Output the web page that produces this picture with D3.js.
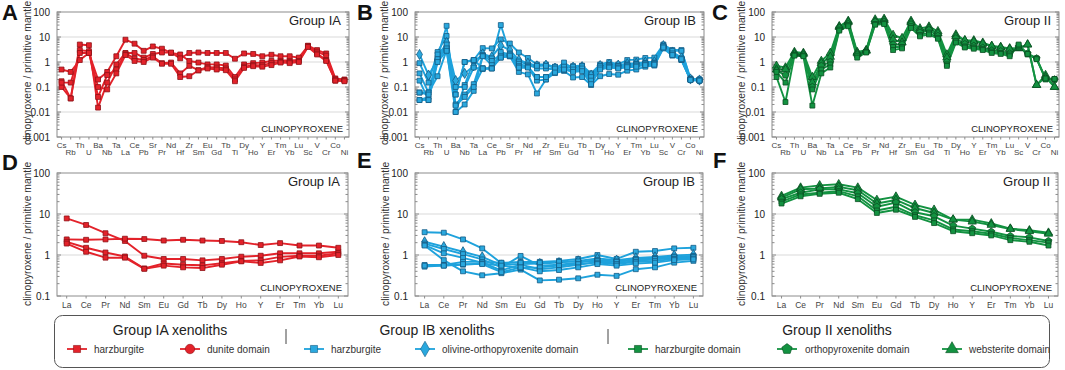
<!DOCTYPE html>
<html>
<head>
<meta charset="utf-8">
<script src="https://cdn.jsdelivr.net/npm/d3@7/dist/d3.min.js"></script>
<style>
  body { margin: 0; background: #fff; }
  svg { display: block; font-family: "Liberation Sans", Arial, sans-serif; }
</style>
</head>
<body>
<svg id="chart" width="1065" height="370"></svg>
<script>
// element orders
const spiderElements = ["Cs","Rb","Th","U","Ba","Nb","Ta","La","Ce","Pb","Sr","Pr","Nd","Hf","Zr","Sm","Eu","Gd","Tb","Ti","Dy","Ho","Y","Er","Tm","Yb","Lu","Sc","V","Cr","Co","Ni"]
const reeElements = ["La","Ce","Pr","Nd","Sm","Eu","Gd","Tb","Dy","Ho","Y","Er","Tm","Yb","Lu"]

// Group IA, normalised to primitive mantle
const iaSpider = [
  [0.5,0.4,1.2,2.3,0.2,0.4,1.7,7.8,5.4,2.8,4.2,3.4,2.3,2.0,1.1,0.95,0.8,0.8,0.72,0.25,0.8,0.9,0.95,1.1,1.15,1.15,1.2,4.5,3.0,2.2,0.22,0.2],
  [0.17,0.035,5.0,4.7,0.015,0.15,0.8,2.3,2.3,1.5,2.1,2.4,2.4,1.4,2.3,2.4,2.3,2.3,2.3,1.35,2.2,2.1,1.7,1.95,1.7,1.7,1.5,4.3,2.6,1.8,0.2,0.19],
  [0.1,0.035,3.0,2.7,0.04,0.3,0.5,2.2,1.4,1.2,1.7,0.9,0.95,0.35,0.7,0.47,0.62,0.6,0.55,0.2,0.65,0.75,0.75,0.9,1.0,1.0,1.1,4.2,2.2,1.2,0.18,0.18],
  [0.15,0.15,2.3,2.3,0.1,0.08,0.35,1.9,1.1,1.0,1.5,0.85,0.85,0.25,0.27,0.46,0.55,0.5,0.47,0.17,0.58,0.68,0.65,0.75,0.95,0.9,1.0,4.0,2.0,1.1,0.18,0.17]
]
const iaRee = [
  [7.8,5.4,3.4,2.2,0.96,0.8,0.8,0.74,0.8,0.91,0.96,1.1,1.1,1.1,1.2],
  [2.4,2.35,2.4,2.5,2.45,2.25,2.35,2.25,2.2,2.05,1.75,1.95,1.7,1.7,1.5],
  [2.1,1.5,1.15,0.92,0.47,0.62,0.58,0.56,0.63,0.72,0.74,0.9,0.96,0.96,1.1],
  [1.9,1.2,0.86,0.86,0.46,0.55,0.5,0.48,0.58,0.7,0.64,0.74,0.92,0.88,1.0]
]

// Group IB
const ibSpider = [
  [0.9,0.15,2.5,11,0.05,1.0,1.2,3.6,3.5,8,5.5,2.4,1.45,0.8,0.8,0.63,0.68,0.68,0.72,0.35,0.8,1.0,0.8,1.2,1.25,1.45,1.5,5.0,3.0,3.0,0.22,0.2],
  [2.0,0.3,1.2,6,0.18,0.35,0.7,2.1,1.6,4.5,3.0,1.2,0.9,0.7,0.75,0.57,0.6,0.62,0.65,0.3,0.72,0.82,0.75,0.85,0.9,0.98,1.02,4.5,2.5,1.5,0.21,0.19],
  [0.35,0.06,1.5,28,0.01,0.12,1.1,1.9,1.4,30,2.2,1.05,0.78,0.55,0.55,0.5,0.95,0.55,0.58,0.2,0.65,0.75,0.7,0.8,0.85,0.92,0.95,4.2,2.2,1.3,0.2,0.19],
  [0.18,0.03,1.2,4,0.02,0.05,0.13,1.75,1.1,2.0,1.8,0.85,0.65,0.25,0.25,0.42,0.58,0.45,0.5,0.15,0.58,0.68,0.62,0.72,0.78,0.85,0.88,4.0,2.0,1.2,0.2,0.18],
  [0.06,0.06,0.27,3,0.01,0.02,0.07,1.7,0.75,1.5,1.7,0.4,0.32,0.055,0.2,0.36,0.44,0.24,0.25,0.12,0.27,0.33,0.31,0.45,0.5,0.65,0.72,3.5,1.8,1.2,0.19,0.18],
  [0.03,0.04,2.0,5,0.05,1.0,1.2,0.57,0.57,2.5,2.0,0.68,0.68,0.7,0.7,0.65,0.65,0.65,0.68,0.25,0.7,0.72,0.68,0.75,0.8,0.88,0.9,4.5,2.8,2.8,0.21,0.2],
  [0.06,0.05,1.3,3.5,0.1,0.1,0.6,0.52,0.55,1.7,1.7,0.58,0.62,0.18,0.2,0.55,0.48,0.5,0.55,0.18,0.6,0.65,0.6,0.68,0.72,0.8,0.82,4.2,2.2,1.4,0.2,0.19],
  [0.03,0.03,1.0,2.8,0.018,0.04,0.1,0.55,0.55,1.5,1.8,0.6,0.6,0.25,0.25,0.38,0.5,0.4,0.43,0.13,0.5,0.6,0.55,0.62,0.65,0.75,0.78,3.8,1.9,1.3,0.19,0.18]
]
const ibRee = [
  [3.6,3.5,2.4,1.45,0.63,0.68,0.68,0.72,0.8,1.0,0.8,1.2,1.25,1.45,1.5],
  [2.1,1.6,1.2,0.9,0.57,0.6,0.62,0.65,0.72,0.82,0.75,0.85,0.9,0.98,1.02],
  [1.9,1.4,1.05,0.78,0.5,0.95,0.55,0.58,0.65,0.75,0.7,0.8,0.85,0.92,0.95],
  [1.75,1.1,0.85,0.65,0.42,0.58,0.45,0.5,0.58,0.68,0.62,0.72,0.78,0.85,0.88],
  [1.7,0.75,0.4,0.32,0.36,0.44,0.24,0.25,0.27,0.33,0.31,0.45,0.5,0.65,0.72],
  [0.57,0.57,0.68,0.68,0.65,0.65,0.65,0.68,0.7,0.72,0.68,0.75,0.8,0.88,0.9],
  [0.52,0.55,0.58,0.62,0.55,0.48,0.5,0.55,0.6,0.65,0.6,0.68,0.72,0.8,0.82],
  [0.55,0.55,0.6,0.6,0.38,0.5,0.4,0.43,0.5,0.6,0.55,0.62,0.65,0.75,0.78]
]

// Group II
const iiSpider = [
  [0.7,0.6,2.5,2.3,0.25,1.1,2.3,27,44,2.5,3.0,50,53,12,9,44,22,26,17,2.0,12.5,7.3,7.3,5.9,4.4,4.0,3.5,3.5,5.0,0.12,0.3,0.1],
  [0.5,0.5,2.2,2.1,0.15,0.9,1.6,25,40,2.2,2.8,42,46,8,6,38,18,22,14,1.5,10.6,7.3,6.5,5.4,4.3,3.8,3.3,3.6,5.0,0.12,0.25,0.1],
  [0.45,0.3,2.0,1.9,0.1,0.7,1.0,23,33,2.0,2.6,40,40,5,5,32,15,19,11,1.0,8.8,5.2,4.4,3.7,2.9,2.7,2.2,4.0,2.2,1.4,0.22,0.2],
  [0.4,0.15,1.9,1.8,0.08,0.5,0.8,20,30,1.8,2.5,33,36,4,4,27,12,15,9.3,0.8,7.0,4.2,3.8,3.3,2.6,2.3,2.0,4.5,2.0,1.4,0.2,0.21],
  [0.25,0.025,1.8,1.7,0.018,0.35,0.6,18,27,1.5,2.4,31,33,3,3.5,23,10.6,12.7,8.5,0.7,6.0,3.8,3.4,3.0,2.3,2.1,1.7,5.0,2.1,1.3,0.22,0.21]
]
const iiRee = [
  [27.5,44,50,53,44,22,26.5,16.7,12.7,7.3,7.3,5.9,4.4,4.0,3.5],
  [25,40,42,46,38,18,22,14,10.6,7.3,6.5,5.4,4.3,3.8,3.3],
  [23,33,40,40,32,15,19,11,8.8,5.2,4.4,3.7,2.9,2.7,2.2],
  [20,30,33,36,27,12.2,15,9.3,7.0,4.2,3.8,3.3,2.6,2.3,2.0],
  [18,27,31,33,23,10.6,12.7,8.5,6.0,3.8,3.4,3.0,2.3,2.1,1.7]
]

const iaSymbols = ["square","square","square","square"]
const ibSymbols = ["square","diamond","square","square","square","square","square","square"]
const iiSymbols = ["triangle","triangle","pentagon","square","square"]

const colors = {
  ia: { line: "#e3222a", fill: "#e3222a", edge: "#8e1116" },
  ib: { line: "#1ea2dc", fill: "#2aa8de", edge: "#135c85" },
  ii: { line: "#139241", fill: "#139241", edge: "#0a4f22" }
}

const svg = d3.select("#chart")

// custom pentagon symbol
const symbolPentagon = {
  draw(ctx, size) {
    const r = Math.sqrt(size / 2.38)
    for (let i = 0; i < 5; i++) {
      const a = -Math.PI / 2 + i * 2 * Math.PI / 5
      if (i === 0) ctx.moveTo(r * Math.cos(a), r * Math.sin(a))
      else ctx.lineTo(r * Math.cos(a), r * Math.sin(a))
    }
    ctx.closePath()
  }
}
const symbolTypes = {
  square: d3.symbolSquare, circle: d3.symbolCircle, diamond: d3.symbolDiamond,
  triangle: d3.symbolTriangle, pentagon: symbolPentagon
}
const symbolSizes = { square: 24, circle: 30, diamond: 30, triangle: 30, pentagon: 32 }

const panels = [
  { letter: "A", title: "Group IA", els: spiderElements, data: iaSpider, sym: iaSymbols, col: colors.ia, x0: 57, x1: 349, y0: 12, y1: 137, dom: [0.001, 100], lx: 2, ly: 20, labX: 31, labY: 145 },
  { letter: "B", title: "Group IB", els: spiderElements, data: ibSpider, sym: ibSymbols, col: colors.ib, x0: 415, x1: 704, y0: 12, y1: 137, dom: [0.001, 100], lx: 357, ly: 20, labX: 388, labY: 145 },
  { letter: "C", title: "Group II", els: spiderElements, data: iiSpider, sym: iiSymbols, col: colors.ii, x0: 772, x1: 1059, y0: 12, y1: 137, dom: [0.001, 100], lx: 712, ly: 20, labX: 745, labY: 145 },
  { letter: "D", title: "Group IA", els: reeElements, data: iaRee, sym: iaSymbols, col: colors.ia, x0: 57, x1: 348, y0: 173, y1: 296, dom: [0.1, 100], lx: 2, ly: 170, labX: 31, labY: 306 },
  { letter: "E", title: "Group IB", els: reeElements, data: ibRee, sym: ibSymbols, col: colors.ib, x0: 415, x1: 703, y0: 173, y1: 296, dom: [0.1, 100], lx: 357, ly: 168, labX: 389, labY: 306 },
  { letter: "F", title: "Group II", els: reeElements, data: iiRee, sym: iiSymbols, col: colors.ii, x0: 772, x1: 1058, y0: 173, y1: 296, dom: [0.1, 100], lx: 713, ly: 168, labX: 745, labY: 306 }
]

panels.forEach(drawPanel)

function drawPanel(p) {
  const g = svg.append("g")
  const x = d3.scalePoint().domain(p.els).range([p.x0, p.x1]).padding(0.5)
  const y = d3.scaleLog().domain(p.dom).range([p.y1, p.y0])
  const spider = p.els.length > 20

  const e0 = Math.round(Math.log10(p.dom[0])), e1 = Math.round(Math.log10(p.dom[1]))
  const decades = d3.range(e0, e1 + 1).map(e => Math.pow(10, e))
  const minors = []
  decades.slice(0, -1).forEach(d => { for (let k = 2; k < 10; k++) minors.push(d * k) })

  // grid lines
  g.selectAll(".grid").data(decades.slice(1, -1)).join("line")
    .attr("x1", p.x0).attr("x2", p.x1)
    .attr("y1", d => y(d)).attr("y2", d => y(d))
    .attr("stroke", "#d9d9d9").attr("stroke-width", 1)

  // frame
  g.append("rect")
    .attr("x", p.x0).attr("y", p.y0)
    .attr("width", p.x1 - p.x0).attr("height", p.y1 - p.y0)
    .attr("fill", "none").attr("stroke", "#8c8c8c").attr("stroke-width", 1)

  // ticks on left and right (inward)
  ;[p.x0, p.x1].forEach((xx, side) => {
    const dir = side === 0 ? 1 : -1
    g.selectAll(null).data(minors).join("line")
      .attr("x1", xx).attr("x2", xx + dir * 2.5)
      .attr("y1", d => y(d)).attr("y2", d => y(d))
      .attr("stroke", "#8c8c8c")
    g.selectAll(null).data(decades).join("line")
      .attr("x1", xx).attr("x2", xx + dir * 4)
      .attr("y1", d => y(d)).attr("y2", d => y(d))
      .attr("stroke", "#8c8c8c")
  })

  // y tick labels
  g.selectAll(".ylab").data(decades).join("text")
    .attr("x", p.x0 - 7).attr("y", d => y(d) + 3.5)
    .attr("text-anchor", "end").attr("font-size", 10).attr("fill", "#222")
    .text(d => d3.format("~g")(d))

  // bottom ticks and category labels
  g.selectAll(".xt").data(p.els).join("line")
    .attr("x1", d => x(d)).attr("x2", d => x(d))
    .attr("y1", p.y1).attr("y2", p.y1 + 2.5)
    .attr("stroke", "#8c8c8c")
  g.selectAll(".xl").data(p.els).join("text")
    .attr("x", d => x(d))
    .attr("y", (d, i) => spider ? (i % 2 === 0 ? p.y1 + 11 : p.y1 + 18) : p.y1 + 12)
    .attr("text-anchor", "middle")
    .attr("font-size", spider ? 8 : 8.5).attr("fill", "#444")
    .text(d => d)

  // series
  const line = d3.line().x((v, i) => x(p.els[i])).y(v => y(v))
  p.data.forEach((vals, si) => {
    g.append("path").datum(vals)
      .attr("d", line).attr("fill", "none")
      .attr("stroke", p.col.line).attr("stroke-width", 1.9)
      .attr("stroke-linejoin", "round")
  })
  p.data.forEach((vals, si) => {
    const t = p.sym[si]
    const sym = d3.symbol().type(symbolTypes[t]).size(symbolSizes[t])
    g.selectAll(null).data(vals).join("path")
      .attr("transform", (v, i) => `translate(${x(p.els[i])},${y(v)})`)
      .attr("d", sym)
      .attr("fill", p.col.fill).attr("stroke", p.col.edge).attr("stroke-width", 0.8)
  })

  // panel texts
  g.append("text")
    .attr("x", p.x1 - 8).attr("y", p.y0 + 13)
    .attr("text-anchor", "end").attr("font-size", 13).attr("fill", "#222")
    .text(p.title)
  g.append("text")
    .attr("x", p.x1 - 6).attr("y", p.y1 - 5)
    .attr("text-anchor", "end").attr("font-size", 9.5).attr("fill", "#222")
    .text("CLINOPYROXENE")
  g.append("text")
    .attr("x", p.lx).attr("y", p.ly)
    .attr("font-size", 22).attr("font-weight", "bold").attr("fill", "#111")
    .text(p.letter)
  g.append("text")
    .attr("transform", `translate(${p.labX},${p.labY}) rotate(-90)`)
    .attr("font-size", 10.3).attr("fill", "#333")
    .text("clinopyroxene / primitive mantle")
}

// legend
const legendGroups = ["Group IA xenoliths", "Group IB xenoliths", "Group II xenoliths"]
const legendItems = [
  { label: "harzburgite", sym: "square", col: colors.ia },
  { label: "dunite domain", sym: "circle", col: colors.ia },
  { label: "harzburgite", sym: "square", col: colors.ib },
  { label: "olivine-orthopyroxenite domain", sym: "diamond", col: colors.ib },
  { label: "harzburgite domain", sym: "square", col: colors.ii },
  { label: "orthopyroxenite domain", sym: "pentagon", col: colors.ii },
  { label: "websterite domain", sym: "triangle", col: colors.ii }
]
const legendTitleX = [170, 437, 837]
const legendItemX = [77, 190, 314, 425, 638, 787, 952]
const legendSepX = [286, 608]

const lg = svg.append("g")
lg.append("rect")
  .attr("x", 54.5).attr("y", 315.5).attr("width", 995).attr("height", 52)
  .attr("rx", 8).attr("fill", "#fff").attr("stroke", "#555").attr("stroke-width", 1)
lg.selectAll(".lt").data(legendGroups).join("text")
  .attr("x", (d, i) => legendTitleX[i]).attr("y", 335)
  .attr("text-anchor", "middle").attr("font-size", 14).attr("fill", "#222")
  .text(d => d)
lg.selectAll(".ls").data(legendSepX).join("line")
  .attr("x1", d => d).attr("x2", d => d).attr("y1", 329).attr("y2", 344)
  .attr("stroke", "#444")
const li = lg.selectAll(".li").data(legendItems).join("g")
  .attr("transform", (d, i) => `translate(${legendItemX[i]},349)`)
li.append("line").attr("x1", -10).attr("x2", 10)
  .attr("stroke", d => d.col.line).attr("stroke-width", 1.8)
li.append("path")
  .attr("d", d => d3.symbol().type(symbolTypes[d.sym]).size(d.sym === "square" ? 50 : 70)())
  .attr("fill", d => d.col.fill).attr("stroke", d => d.col.edge).attr("stroke-width", 0.6)
li.append("text").attr("x", d => d.sym === "pentagon" ? 18 : 17).attr("y", 3.5)
  .attr("font-size", 10).attr("fill", "#333")
  .text(d => d.label)
</script>
</body>
</html>
